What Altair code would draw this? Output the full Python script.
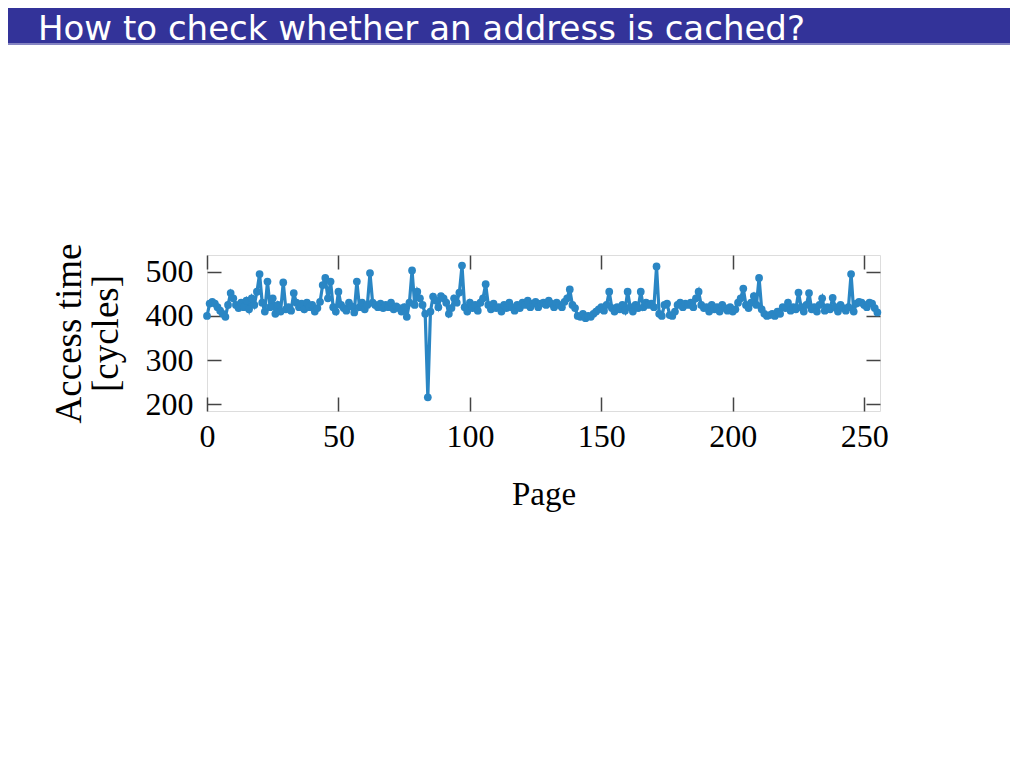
import altair as alt
import pandas as pd

# ---- data ----
access_time = [
    400, 428, 432, 428, 420, 412, 405, 398, 425, 452, 440, 425, 418, 430, 420, 435,
    415, 440, 425, 455, 495, 430, 410, 478, 420, 440, 405, 425, 410, 476, 415, 420,
    412, 452, 430, 420, 428, 415, 430, 420, 425, 410, 418, 432, 470, 486, 440, 478,
    420, 410, 455, 425, 418, 412, 430, 422, 408, 478, 420, 430, 415, 425, 497, 430,
    425, 420, 428, 418, 425, 420, 430, 415, 422, 418, 410, 420, 398, 430, 503, 425,
    455, 440, 425, 405, 216, 410, 444, 435, 420, 445, 440, 430, 405, 418, 440, 430,
    453, 514, 420, 410, 430, 418, 425, 412, 430, 440, 472, 425, 415, 428, 418, 420,
    410, 425, 418, 430, 420, 412, 425, 418, 430, 425, 435, 420, 428, 432, 420, 428,
    430, 425, 435, 428, 420, 430, 425, 420, 432, 440, 460, 425, 418, 400, 398, 405,
    395, 400, 398, 405, 410, 415, 420, 412, 425, 455, 418, 410, 420, 415, 425, 412,
    455, 420, 410, 425, 418, 455, 420, 430, 425, 428, 420, 512, 405, 400, 425, 428,
    402, 400, 410, 425, 430, 420, 428, 425, 430, 420, 440, 455, 425, 418, 420, 410,
    425, 415, 420, 410, 425, 418, 412, 420, 410, 415, 430, 440, 462, 425, 418, 430,
    445, 425, 486, 415, 405, 400, 402, 405, 400, 410, 405, 420, 418, 430, 412, 420,
    415, 453, 420, 410, 425, 452, 415, 420, 410, 425, 440, 412, 420, 415, 441, 420,
    410, 425, 418, 412, 420, 495, 410, 428, 432, 430, 425, 420, 430, 428, 418, 408,
]
pages = list(range(len(access_time)))
x_ticks = [0, 50, 100, 150, 200, 250]
y_ticks = [200, 300, 400, 500]
slide_title = "How to check whether an address is cached?"
x_title = "Page"
y_title = ["Access time", "[cycles]"]

df = pd.DataFrame({"page": pages, "time": access_time})

W, H = 673, 156
BLUE = "#2a86c4"
SERIF = "Liberation Serif"

xs = alt.Scale(domain=[0, 256], nice=False, zero=False)
ys = alt.Scale(domain=[185, 538], nice=False, zero=False)

x_axis = alt.Axis(
    values=x_ticks, title=x_title, tickSize=0, domain=False, labelFlush=False,
    grid=True, gridColor="#444444", gridWidth=1.5, gridDash=[14, H - 28, 14, 400],
    labelFont=SERIF, labelFontSize=32, labelColor="black", labelPadding=10,
    titleFont=SERIF, titleFontSize=33, titleFontWeight="normal", titleColor="black",
    titlePadding=26,
)
y_axis = alt.Axis(
    values=y_ticks, title=y_title, tickSize=0, domain=False,
    grid=True, gridColor="#444444", gridWidth=1.5, gridDash=[14, W - 28, 14, 1000],
    labelFont=SERIF, labelFontSize=32, labelColor="black", labelPadding=14,
    titleFont=SERIF, titleFontSize=37, titleFontWeight="normal", titleColor="black",
    titlePadding=20, titleLineHeight=37,
)

base = alt.Chart(df)
line = base.mark_line(color=BLUE, strokeWidth=3.2).encode(
    x=alt.X("page:Q", scale=xs, axis=x_axis),
    y=alt.Y("time:Q", scale=ys, axis=y_axis),
)
pts = base.mark_circle(color=BLUE, size=60, opacity=1).encode(
    x=alt.X("page:Q", scale=xs),
    y=alt.Y("time:Q", scale=ys),
)

one = pd.DataFrame({"t": [slide_title]})
bar = alt.Chart(one).mark_rect(color="#333399").encode(
    x=alt.value(-199), x2=alt.value(803), y=alt.value(-247), y2=alt.value(-212)
)
strip = alt.Chart(one).mark_rect(color="#8585c2").encode(
    x=alt.value(-199), x2=alt.value(803), y=alt.value(-212), y2=alt.value(-210)
)
title_txt = alt.Chart(one).mark_text(
    color="white", font="DejaVu Sans", fontSize=34, align="left", baseline="alphabetic"
).encode(x=alt.value(-169), y=alt.value(-215), text="t:N")

chart = alt.layer(bar, strip, title_txt, line, pts).properties(
    width=W, height=H,
    autosize=alt.AutoSizeParams(type="none"),
    padding={"left": 199, "top": 247, "right": 136, "bottom": 349},
).configure_view(stroke="black", strokeWidth=2).configure(background="white")

chart.save("out.html", embed_options={"renderer": "svg", "actions": False})
